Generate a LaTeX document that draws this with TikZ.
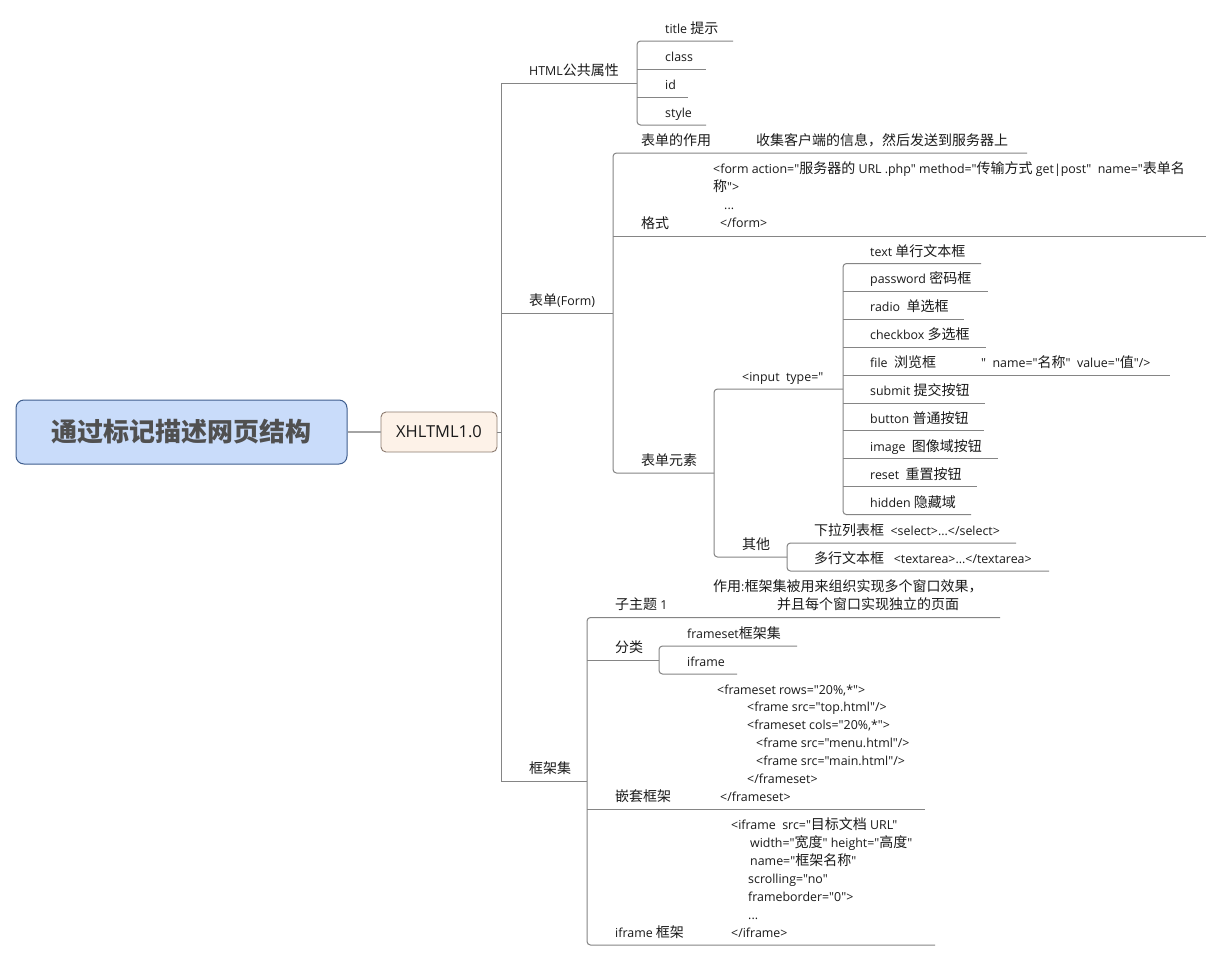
\documentclass[tikz,border=0pt]{standalone}
\usepackage{fontspec}
\setmainfont{Open Sans}[Ligatures=TeXOff]
\newfontfamily\cjkfam{Noto Sans CJK SC}
\newcommand\cjksz{14}
\newcommand\latsz{12.4}
\newcommand\cjkon{\cjkfam\fontsize{\cjksz}{18}\selectfont}
\newcommand\cjkoff{\rmfamily\fontsize{\latsz}{18}\selectfont}
\newcommand\rootfont{\renewcommand\cjksz{26}\bfseries}
\chardef\myCJK=7
\makeatletter
\count@="3000
\loop\ifnum\count@<"A000 \XeTeXcharclass\count@=\myCJK\advance\count@\@ne\repeat
\count@="FF00
\loop\ifnum\count@<"FFF0 \XeTeXcharclass\count@=\myCJK\advance\count@\@ne\repeat
\makeatother
\XeTeXinterchartokenstate=1
\XeTeXinterchartoks 0 \myCJK={\cjkon}
\XeTeXinterchartoks 4095 \myCJK={\cjkon}
\XeTeXinterchartoks \myCJK 0={\cjkoff}
\XeTeXinterchartoks \myCJK 4095={\cjkoff}
\definecolor{lncol}{HTML}{858585}
\definecolor{txtcol}{HTML}{1A1A1A}
\definecolor{rootfill}{HTML}{C9DCFA}
\definecolor{rootdraw}{HTML}{3F5E8E}
\definecolor{roottext}{HTML}{505050}
\definecolor{boxfill}{HTML}{FDF2E8}
\definecolor{boxdraw}{HTML}{8C7B70}
\newcommand\ulc[4]{\coordinate (#1-s) at (#2,#4);\coordinate (#1-e) at (#3,#4);}
\newcommand\myul[4]{\ulc{#1}{#2}{#3}{#4}\draw[ln] (#1-s) -- (#1-e);}
\begin{document}
\begin{tikzpicture}[x=1pt,y=-1pt,
 ln/.style={draw=lncol,line width=1pt},
 tr/.style={ln,rounded corners=3.5pt},
 txt/.style={anchor=base west,inner sep=0pt,text=txtcol,font=\cjkoff},
 rootbox/.style={draw=rootdraw,line width=1pt,fill=rootfill,rounded corners=8pt,minimum width=331pt,minimum height=64pt,inner sep=0pt,text=roottext,font=\rootfont},
 xhbox/.style={draw=boxdraw,line width=0.9pt,fill=boxfill,rounded corners=5pt,minimum width=116pt,minimum height=40pt,inner sep=0pt,text=txtcol,font=\fontsize{16.5}{20}\selectfont},
]
\fill[white] (0,0) rectangle (1222,961);
\useasboundingbox (0,0) rectangle (1222,961);

\node[rootbox] (root) at (181.5,432) {通过标记描述网页结构};
\node[xhbox] (xh) at (439,432) {XHLTML1.0};
\draw[ln,line width=1.6pt,draw=lncol!75] (root.east) -- (xh.west);
\coordinate (T0) at (501,432);
\draw[ln] (xh.east) -- (T0);

% main trunk
\ulc{html}{501}{637}{83}
\ulc{frame}{501}{587}{781}
\draw[ln] (html-e) -- (html-s) -- (frame-s) -- (frame-e);
\myul{form}{501}{613}{313}
\node[txt] (n-html) at (529,75.5) {HTML公共属性};
\node[txt] (n-form) at (529,305.5) {表单(Form)};
\node[txt] (n-frame) at (529,773.5) {框架集};

% HTML attributes
\ulc{title}{637}{733}{41}
\ulc{style}{637}{706}{125}
\draw[tr] (title-e) -- (title-s) -- (style-s) -- (style-e);
\myul{class}{637}{706}{69}
\myul{id}{637}{688}{97}
\node[txt] (n-title) at (665,33.5) {title 提示};
\node[txt] (n-class) at (665,61.5) {class};
\node[txt] (n-id) at (665,89.5) {id};
\node[txt] (n-style) at (665,117.5) {style};

% form
\ulc{purpose}{613}{1027}{153}
\ulc{elem}{613}{714}{473}
\draw[tr] (purpose-e) -- (purpose-s) -- (elem-s) -- (elem-e);
\myul{fmt}{613}{1206}{236}
\node[txt] (n-purpose) at (641,145.5) {表单的作用};
\node[txt] (n-purpose2) at (756,145.5) {收集客户端的信息，然后发送到服务器上};
\node[txt] (n-fmt) at (641,228.5) {格式};
\node[txt] (f1) at (713,173.5) {<form action="服务器的 URL .php" method="传输方式 get|post"\ \ name="表单名};
\node[txt] (f2) at (713,191.5) {称">};
\node[txt] (f3) at (724,209.5) {...};
\node[txt] (f4) at (720,227.5) {</form>};
\node[txt] (n-elem) at (641,465.5) {表单元素};

% form elements
\ulc{input}{714}{843}{389}
\ulc{other}{714}{787}{557}
\draw[tr] (input-e) -- (input-s) -- (other-s) -- (other-e);
\node[txt] (n-input) at (742,381.5) {<input\ \ type="};
\node[txt] (n-other) at (742,549.5) {其他};

\ulc{t1}{843}{981}{263.5}
\ulc{t10}{843}{971}{514.6}
\draw[tr] (t1-e) -- (t1-s) -- (t10-s) -- (t10-e);
\myul{t2}{843}{988}{291.4}
\myul{t3}{843}{964}{319.3}
\myul{t4}{843}{986}{347.2}
\myul{t5}{843}{1170}{375.1}
\myul{t6}{843}{985}{403}
\myul{t7}{843}{984}{430.9}
\myul{t8}{843}{998}{458.8}
\myul{t9}{843}{977}{486.7}
\node[txt] (n-t1) at (870,256) {text 单行文本框};
\node[txt] (n-t2) at (870,283.9) {password 密码框};
\node[txt] (n-t3) at (870,311.8) {radio\ \ 单选框};
\node[txt] (n-t4) at (870,339.7) {checkbox 多选框};
\node[txt] (n-t5) at (870,367.6) {file\ \ 浏览框};
\node[txt] (n-t5b) at (981,367.6) {"\ \ name="名称"\ \ value="值"/>};
\node[txt] (n-t6) at (870,395.5) {submit 提交按钮};
\node[txt] (n-t7) at (870,423.4) {button 普通按钮};
\node[txt] (n-t8) at (870,451.3) {image\ \ 图像域按钮};
\node[txt] (n-t9) at (870,479.2) {reset\ \ 重置按钮};
\node[txt] (n-t10) at (870,507.1) {hidden 隐藏域};

\ulc{sel}{787}{1016}{543}
\ulc{ta}{787}{1049}{571}
\draw[tr] (sel-e) -- (sel-s) -- (ta-s) -- (ta-e);
\node[txt] (n-sel) at (814,535.5) {下拉列表框\ \ <select>...</select>};
\node[txt] (n-ta) at (814,563.5) {多行文本框\ \ \ <textarea>...</textarea>};

% frameset
\ulc{sub1}{587}{1000}{617.5}
\ulc{ifr}{587}{935}{945}
\draw[tr] (sub1-e) -- (sub1-s) -- (ifr-s) -- (ifr-e);
\myul{cls}{587}{659}{660}
\myul{nest}{587}{925}{809}
\node[txt] (n-sub1) at (615,609.5) {子主题 1};
\node[txt] (u1) at (713,591.5) {作用:框架集被用来组织实现多个窗口效果，};
\node[txt] (u2) at (777,609.5) {并且每个窗口实现独立的页面};
\node[txt] (n-cls) at (615,652.5) {分类};
\node[txt] (n-nest) at (615,801.5) {嵌套框架};
\node[txt] (n-ifr) at (615,937.5) {iframe 框架};

\ulc{fset}{659}{797}{646}
\ulc{ifo}{659}{737}{674}
\draw[tr] (fset-e) -- (fset-s) -- (ifo-s) -- (ifo-e);
\node[txt] (n-fset) at (687,638.5) {frameset框架集};
\node[txt] (n-ifo) at (687,666.5) {iframe};

\node[txt] (g1) at (717,694) {<frameset rows="20\%,*">};
\node[txt] (g2) at (747,711.5) {<frame src="top.html"/>};
\node[txt] (g3) at (747,729.5) {<frameset cols="20\%,*">};
\node[txt] (g4) at (756,747.5) {<frame src="menu.html"/>};
\node[txt] (g5) at (756,765.5) {<frame src="main.html"/>};
\node[txt] (g6) at (747,783.5) {</frameset>};
\node[txt] (g7) at (720,801.5) {</frameset>};

\node[txt] (h1) at (731,829.5) {<iframe\ \ src="目标文档 URL"};
\node[txt] (h2) at (750,847.5) {width="宽度" height="高度"};
\node[txt] (h3) at (750,865.5) {name="框架名称"};
\node[txt] (h4) at (748,883.5) {scrolling="no"};
\node[txt] (h5) at (748,901.5) {frameborder="0">};
\node[txt] (h6) at (748,919.5) {...};
\node[txt] (h7) at (731,937.5) {</iframe>};
\end{tikzpicture}
\end{document}
